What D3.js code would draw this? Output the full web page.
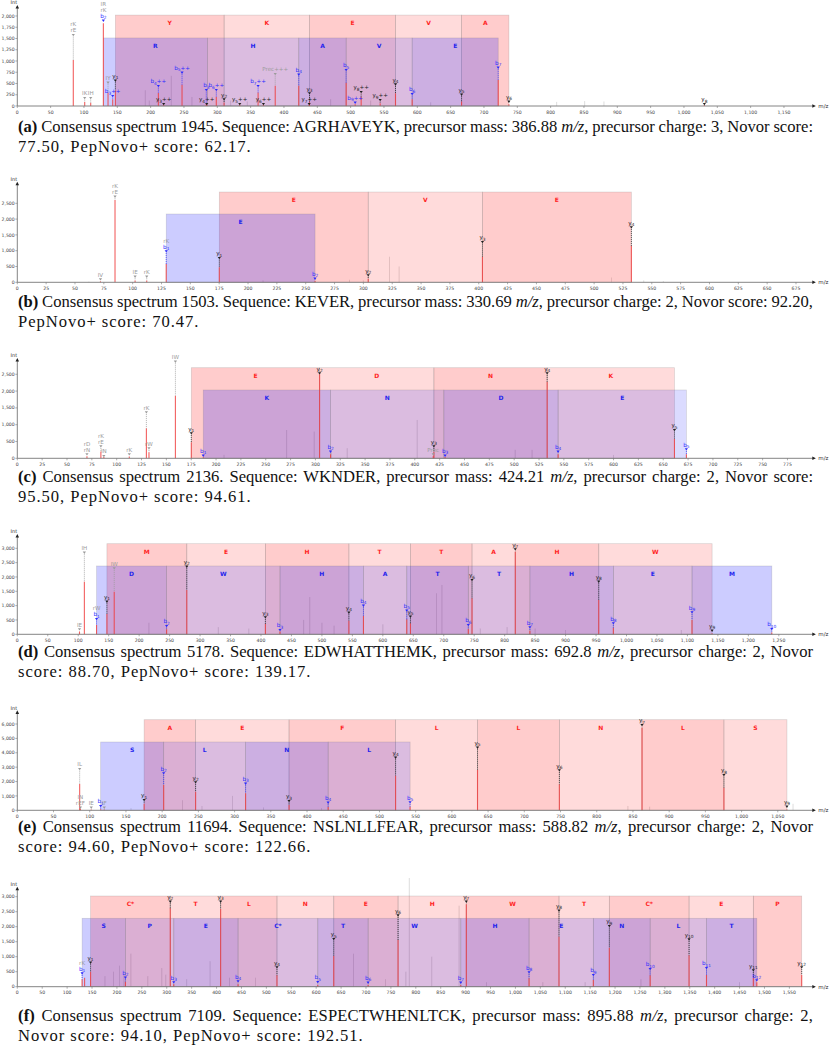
<!DOCTYPE html>
<html><head><meta charset="utf-8">
<script src="https://cdn.jsdelivr.net/npm/d3@7"></script>
<style>body{margin:0;background:#fff} svg{display:block}</style>
</head><body><svg id="c" width="831" height="1050"></svg>
<script>
// ---------------- DATA ----------------
// peaks: [m/z, intensity, labels (top→bottom, "|" separated), label-marker intensity]
const peaksA = [
 [84.0,1022,"rK|rE",1578],[101.1,90,"IK",178],[110.1,70,"IH",178],[129.1,1838,"IR|rK|b2",1896],
 [136.1,300,"IY",518],[143.1,150,"b3++",222],[147.1,350,"y1",562],[211.6,290,"b4++",444],
 [219.6,30,"y3++",44],[247.1,470,"b5++",740],[284.2,30,"y4++",44],[283.5,60,"b3",356],
 [298.5,200,"b6++",356],[310.2,80,"y2",148],[333.7,30,"y5++",44],[361.2,300,"b7++",444],
 [369.2,30,"y6++",44],[386.9,450,"Prec+++",711],[422.2,450,"b4",696],[438.3,100,"y3",282],
 [437.8,30,"y7++",44],[493.3,518,"b5",800],[506.8,40,"b9++",73],[515.8,207,"y8++",311],
 [544.3,60,"y9++",133],[567.3,282,"y4",481],[592.3,150,"b6",267],[666.4,100,"y5",252],
 [721.4,578,"b7",852],[737.4,40,"y6",96],[1030.6,20,"y8",44]
];
const noiseA = [[192,350],[198,120],[231,670],[262,200],[320,120],[345,100],[470,150],[530,120],[620,80],[809,90],[851,110],[880,100]];
const yIonsA = [147.1,310.2,438.3,567.3,666.4,737.4];
const yResA = ["Y","K","E","V","A"];
const yTopA = 2020;
const bIonsA = [129.1,285.2,422.2,493.3,592.3,721.4];
const bResA = ["R","H","A","V","E"];
const bTopA = 1512;

const peaksB = [
 [72.1,30,"IV",95],[84.7,2604,"rK|rE",2709],[102.1,60,"IE",177],[112.2,60,"rK",177],
 [129.1,579,"rK|b1",981],[175.1,475,"y1",769],[258.1,40,"b2",114],[304.2,114,"y2",221],
 [403.2,810,"y3",1275],[532.3,1149,"y4",1740]
];
const noiseB = [[62,20],[213,60],[288,80],[300,60],[322.6,810],[331,500],[515,150],[543,60],[560,40]];
const yIonsB = [175.1,304.2,403.2,532.3];
const yResB = ["E","V","E"];
const yTopB = 2857;
const bIonsB = [129.1,258.1];
const bResB = ["E"];
const bTopB = 2161;

const peaksC = [
 [70.1,60,"rD|rN",119],[84.1,200,"rK|rE",357],[87.1,40,"IN",68],[112.7,50,"rK",119],
 [129.9,893,"rK",1369],[132.5,180,"rW",298],[159.1,1863,"IW",2875],[175.1,476,"y1",744],
 [187.1,30,"b1",77],[304.2,2500,"y2",2530],[315.2,119,"b2",196],[419.2,196,"y3",357],
 [418.5,60,"Prec",119],[430.5,40,"b3",77],[533.2,2280,"y4",2530],[544.2,119,"b4",196],
 [661.3,574,"y5",842],[673.3,120,"b5",268]
];
const noiseC = [[208,100],[271,842],[298.8,792],[316,200],[332,300],[402.4,1140],[501,250],[518,250],[600,100]];
const yIonsC = [175.1,304.2,419.2,533.2,661.3];
const yResC = ["E","D","N","K"];
const yTopC = 2696;
const bIonsC = [187.1,315.2,429.2,544.2,673.3];
const bResC = ["K","N","D","E"];
const bTopC = 2033;

const peaksD = [
 [102.1,100,"IE",174],[110.1,1835,"IH",2847],[130.1,324,"rW|b1",534],[147.1,708,"y1",1137],
 [159.1,1486,"IW",2303],[245.1,174,"b2",290],[278.2,1546,"y2",2359],[407.2,359,"y3",593],
 [431.2,100,"b3",150],[544.3,475,"y4",754],[568.2,639,"b4",998],[639.3,523,"b5",823],
 [645.3,384,"y5",614],[740.3,185,"b6",324],[746.4,1256,"y6",1895],[817.4,2882,"y7",2966],
 [841.4,126,"b7",244],[954.4,1197,"y8",1835],[978.4,230,"b8",384],[1107.5,499,"b9",768],
 [1140.5,40,"y9",126],[1238.5,60,"b10",185]
];
const noiseD = [[216,400],[330,250],[380,200],[470,500],[480,1300],[500,400],[520,300],[600,350],[688,1430],[697,1720],[760,200],[804,250],[850,200],[900,150],[1090,150]];
const yIonsD = [147.1,278.2,407.2,544.3,645.3,746.4,817.4,954.4,1140.5];
const yResD = ["M","E","H","T","T","A","H","W"];
const yTopD = 3161;
const bIonsD = [130.1,245.1,431.2,568.2,639.3,740.3,841.4,978.4,1107.5,1238.5];
const bResD = ["D","W","H","A","T","T","H","E","M"];
const bTopD = 2383;

const peaksE = [
 [86.1,1830,"IL",2870],[87.1,100,"IN|rEF",181],[102.1,60,"IE",181],[115.1,80,"b1",299],
 [120.1,60,"IF",181],[175.1,459,"y1",716],[202.1,1759,"b2",2573],[246.2,1294,"y2",1947],
 [315.2,1182,"b3",1850],[375.2,369,"y3",647],[429.2,230,"b4",529],[522.3,2406,"y4",3658],
 [542.3,250,"b5",556],[635.4,2802,"y5",4353],[748.4,1808,"y6",2782],[862.5,5744,"y7",5932],
 [975.6,1572,"y8",2455],[1062.6,60,"y9",250]
];
const noiseE = [[157,150],[228,700],[255,300],[297,1000],[340,200],[420,150],[843,300],[873,250],[1071,450]];
const yIonsE = [175.1,246.2,375.2,522.3,635.4,748.4,862.5,975.6,1062.6];
const yResE = ["A","E","F","L","L","N","L","S"];
const yTopE = 6300;
const bIonsE = [115.1,202.1,315.2,429.2,542.3];
const bResE = ["S","L","N","L"];
const bTopE = 4750;

const peaksF = [
 [130.1,246,"rK|b1",444],[135.1,300,"",0],[147.1,500,"y1",800],[217.1,167,"b2",300],
 [307.1,2613,"y2",2833],[314.1,80,"b3",147],[408.2,2590,"y3",2833],[443.2,80,"b4",180],
 [521.3,380,"y4",647],[603.2,60,"b5",157],[635.3,1023,"y5",1589],[704.3,60,"b6",133],
 [764.4,1557,"y6",2378],[890.3,60,"b7",133],[901.4,2746,"y7",2833],[1027.4,280,"b8",480],
 [1087.5,1667,"y8",2533],[1156.4,223,"b9",390],[1188.5,1300,"y9",2023],[1270.5,380,"b10",590],
 [1348.6,1047,"y10",1578],[1383.6,390,"b11",623],[1477.6,300,"y11",547],[1484.6,150,"b12",213],
 [1574.7,390,"y12",647]
];
const noiseF = [[176,350],[193,500],[205,700],[214,400],[228,1100],[262,350],[290,620],[298,400],[340,250],[387,850],[426,300],[478,300],[675,1100],[739,250],[780,500],[787,3623],[832,1000],[887,2700],[942,150],[1055,150],[1140,150],[1252,250],[1450,150]];
const yIonsF = [147.1,307.1,408.2,521.3,635.3,764.4,901.4,1087.5,1188.5,1348.6,1477.6,1574.7];
const yResF = ["C*","T","L","N","E","H","W","T","C*","E","P"];
const yTopF = 3023;
const bIonsF = [130.1,217.1,314.1,443.2,603.2,704.3,890.3,1027.4,1156.4,1270.5,1383.6,1484.6];
const bResF = ["S","P","E","C*","T","W","H","E","N","L","T"];
const bTopF = 2280;

// axis extents and tick steps
const xMaxes = [1194, 690, 801, 1306.6, 1099, 1598];
const xTickSteps = [50, 25, 25, 50, 50, 50];
const xTickEnds = [1150, 675, 775, 1250, 1050, 1550];
const yMaxes = [2222, 3152, 2955, 3464, 6884, 3300];
const yTickSteps = [250, 500, 500, 500, 1000, 500];
const yTickEnds = [2000, 2500, 2500, 3000, 6000, 3000];

const captionLine1 = [
 "**(a)** Consensus spectrum 1945. Sequence: AGRHAVEYK, precursor mass: 386.88 _m/z_, precursor charge: 3, Novor score:",
 "**(b)** Consensus spectrum 1503. Sequence: KEVER, precursor mass: 330.69 _m/z_, precursor charge: 2, Novor score: 92.20,",
 "**(c)** Consensus spectrum 2136. Sequence: WKNDER, precursor mass: 424.21 _m/z_, precursor charge: 2, Novor score:",
 "**(d)** Consensus spectrum 5178. Sequence: EDWHATTHEMK, precursor mass: 692.8 _m/z_, precursor charge: 2, Novor",
 "**(e)** Consensus spectrum 11694. Sequence: NSLNLLFEAR, precursor mass: 588.82 _m/z_, precursor charge: 2, Novor",
 "**(f)** Consensus spectrum 7109. Sequence: ESPECTWHENLTCK, precursor mass: 895.88 _m/z_, precursor charge: 2,"
];
const captionLine2 = [
 "77.50, PepNovo+ score: 62.17.",
 "PepNovo+ score: 70.47.",
 "95.50, PepNovo+ score: 94.61.",
 "score: 88.70, PepNovo+ score: 139.17.",
 "score: 94.60, PepNovo+ score: 122.66.",
 "Novor score: 94.10, PepNovo+ score: 192.51."
];

// ---------------- LAYOUT ----------------
const layout = [
 {top:6, base:106, cap:132},
 {top:182.7, base:282.3, cap:307},
 {top:359, base:458.3, cap:482},
 {top:535, base:634.3, cap:657},
 {top:711.3, base:810.3, cap:832},
 {top:887.7, base:986.7, cap:1021}
];
const X0 = 17.3, X1 = 813.3;
const SANS = "DejaVu Sans, Verdana, sans-serif";
const SERIF = "Liberation Serif, Times New Roman, serif";
const CAP_SIZE = 16.6, CAP_LS = 0.95, CAP_W = 795, CAP_LH = 19.5, MIN_WS = 2.2;

const panels = [
 {peaks:peaksA, noise:noiseA, yI:yIonsA, yR:yResA, yT:yTopA, bI:bIonsA, bR:bResA, bT:bTopA},
 {peaks:peaksB, noise:noiseB, yI:yIonsB, yR:yResB, yT:yTopB, bI:bIonsB, bR:bResB, bT:bTopB},
 {peaks:peaksC, noise:noiseC, yI:yIonsC, yR:yResC, yT:yTopC, bI:bIonsC, bR:bResC, bT:bTopC},
 {peaks:peaksD, noise:noiseD, yI:yIonsD, yR:yResD, yT:yTopD, bI:bIonsD, bR:bResD, bT:bTopD},
 {peaks:peaksE, noise:noiseE, yI:yIonsE, yR:yResE, yT:yTopE, bI:bIonsE, bR:bResE, bT:bTopE},
 {peaks:peaksF, noise:noiseF, yI:yIonsF, yR:yResF, yT:yTopF, bI:bIonsF, bR:bResF, bT:bTopF}
];

const svg = d3.select("#c");
const fmt = d3.format(",");

function parseLabel(s){
  const m = s.match(/^([by])(\d+)(\+*)$/);
  return m ? {kind:m[1], main:m[1], sub:m[2], suf:m[3]} : {kind:"o", main:s, sub:"", suf:""};
}
const colorOf = k => k==="b" ? "#2b2bff" : k==="y" ? "#222" : "#9b9b9b";

function drawBand(g, x, y, base, ions, top, rgb){
  const segs = d3.pairs(ions);
  g.append("g").selectAll("rect").data(segs).join("rect")
    .attr("x", d=>x(d[0])).attr("width", d=>x(d[1])-x(d[0]))
    .attr("y", y(top)).attr("height", base - y(top))
    .attr("fill", rgb).attr("fill-opacity", (d,i)=> i%2===0 ? 0.2 : 0.14)
    .attr("stroke", "rgba(120,120,120,0.28)").attr("stroke-width", 0.7);
}
function drawLetters(g, x, y, ions, res, top, col){
  const segs = d3.pairs(ions);
  g.append("g").selectAll("text").data(segs).join("text")
    .attr("x", d=>x((d[0]+d[1])/2)).attr("y", y(top)+10)
    .attr("text-anchor","middle").attr("font-family",SANS).attr("font-weight","bold")
    .attr("font-size",6).attr("fill",col).text((d,i)=>res[i]);
}
function rich(t, s){
  s.split(/(\*\*[^*]+\*\*|_[^_]+_)/).filter(z=>z.length).forEach(z=>{
    const ts = t.append("tspan");
    if (z.startsWith("**")) ts.attr("font-weight","bold").text(z.slice(2,-2));
    else if (z.startsWith("_")) ts.attr("font-style","italic").text(z.slice(1,-1));
    else ts.text(z);
  });
}

panels.forEach((p, i) => {
  const L = layout[i];
  const g = svg.append("g");
  const x = d3.scaleLinear().domain([0, xMaxes[i]]).range([X0, X1]);
  const y = d3.scaleLinear().domain([0, yMaxes[i]]).range([L.base, L.top]);

  // unannotated peaks
  g.append("g").selectAll("line").data(p.noise).join("line")
    .attr("x1", d=>x(d[0])).attr("x2", d=>x(d[0]))
    .attr("y1", L.base).attr("y2", d=>y(d[1]))
    .attr("stroke", "#b5b5b5").attr("stroke-width", 0.8).attr("opacity", 0.55);

  // fragment bands
  drawBand(g, x, y, L.base, p.yI, p.yT, "rgb(255,0,0)");
  drawBand(g, x, y, L.base, p.bI, p.bT, "rgb(0,0,255)");
  drawLetters(g, x, y, p.yI, p.yR, p.yT, "#ff1f1f");
  drawLetters(g, x, y, p.bI, p.bR, p.bT, "#2424ee");

  // annotated peaks
  g.append("g").selectAll("line").data(p.peaks).join("line")
    .attr("x1", d=>x(d[0])).attr("x2", d=>x(d[0]))
    .attr("y1", L.base).attr("y2", d=>y(d[1]))
    .attr("stroke", "#f03a3a").attr("stroke-width", 1.1).attr("opacity", 0.8);

  // labels
  const lg = g.append("g");
  p.peaks.filter(d=>d[2]).forEach(d => {
    const px = x(d[0]), my = y(d[3]), ty = y(d[1]);
    const labs = d[2].split("|").map(parseLabel);
    const mcol = colorOf(labs[labs.length-1].kind);
    if (ty - my > 3) {
      lg.append("line").attr("x1",px).attr("x2",px).attr("y1",my+1.6).attr("y2",ty)
        .attr("stroke", mcol).attr("stroke-width",0.8).attr("stroke-dasharray","1,1");
    }
    lg.append("path").attr("d", `M${px-1.6},${my-1.1}L${px+1.6},${my-1.1}L${px},${my+1.3}Z`).attr("fill", mcol);
    labs.forEach((lb, k) => {
      const by = my - 2.6 - (labs.length-1-k)*6;
      const t = lg.append("text").attr("x",px).attr("y",by).attr("text-anchor","middle")
        .attr("font-family",SANS).attr("font-size",5.6).attr("fill",colorOf(lb.kind));
      t.append("tspan").text(lb.main);
      if (lb.sub) {
        t.append("tspan").attr("font-size",4.3).attr("dy",1.3).text(lb.sub);
        if (lb.suf) t.append("tspan").attr("dy",-1.3).text(lb.suf);
      }
    });
  });

  // axes
  const ax = g.append("g");
  ax.append("line").attr("x1",X0).attr("x2",X1).attr("y1",L.base).attr("y2",L.base)
    .attr("stroke","#777").attr("stroke-width",0.9);
  ax.append("path").attr("d",`M${X1-1},${L.base-1.8}L${X1+2.6},${L.base}L${X1-1},${L.base+1.8}Z`).attr("fill","#222");
  ax.append("text").attr("x",X1+5).attr("y",L.base+2).attr("font-family",SANS).attr("font-size",5.5).attr("fill","#333").text("m/z");
  ax.append("line").attr("x1",X0).attr("x2",X0).attr("y1",L.base).attr("y2",L.top+1)
    .attr("stroke","#777").attr("stroke-width",0.9);
  ax.append("path").attr("d",`M${X0-1.8},${L.top+2.6}L${X0},${L.top-1}L${X0+1.8},${L.top+2.6}Z`).attr("fill","#222");
  ax.append("text").attr("x",X0-3.5).attr("y",L.top-1.8).attr("text-anchor","middle").attr("font-family",SANS).attr("font-size",5).attr("fill","#333").text("Int");

  const xt = d3.range(0, xTickEnds[i]+1, xTickSteps[i]);
  ax.append("g").selectAll("line").data(xt).join("line")
    .attr("x1",d=>x(d)).attr("x2",d=>x(d)).attr("y1",L.base).attr("y2",L.base+2)
    .attr("stroke","#777").attr("stroke-width",0.6);
  ax.append("g").selectAll("text").data(xt).join("text")
    .attr("x",d=>x(d)).attr("y",L.base+7.5).attr("text-anchor","middle")
    .attr("font-family",SANS).attr("font-size",4.6).attr("fill","#444").text(d=>fmt(d));
  const yt = d3.range(0, yTickEnds[i]+1, yTickSteps[i]);
  ax.append("g").selectAll("line").data(yt).join("line")
    .attr("x1",X0-2).attr("x2",X0).attr("y1",d=>y(d)).attr("y2",d=>y(d))
    .attr("stroke","#777").attr("stroke-width",0.6);
  ax.append("g").selectAll("text").data(yt).join("text")
    .attr("x",X0-2.6).attr("y",d=>y(d)+1.6).attr("text-anchor","end")
    .attr("font-family",SANS).attr("font-size",4.6).attr("fill","#444").text(d=>fmt(d));

  // caption (line 1 justified to the full width, line 2 ragged)
  const t1 = svg.append("text").attr("x",18).attr("y",L.cap).attr("font-family",SERIF)
    .attr("font-size",CAP_SIZE).attr("letter-spacing",CAP_LS).attr("fill","#111");
  rich(t1, captionLine1[i]);
  const nsp = (captionLine1[i].match(/ /g)||[]).length;
  const nch = captionLine1[i].replace(/\*\*|_/g,"").length;
  let w = t1.node().getComputedTextLength();
  let ws = (CAP_W - w)/nsp;
  if (ws < MIN_WS) {
    const ls = Math.max(0, CAP_LS + (ws - MIN_WS)*nsp/nch);
    t1.attr("letter-spacing", ls);
    w = t1.node().getComputedTextLength();
    ws = (CAP_W - w)/nsp;
  }
  t1.attr("word-spacing", ws);
  const t2 = svg.append("text").attr("x",18).attr("y",L.cap+CAP_LH).attr("font-family",SERIF)
    .attr("font-size",CAP_SIZE).attr("letter-spacing",CAP_LS).attr("fill","#111");
  rich(t2, captionLine2[i]);
});
</script></body></html>
